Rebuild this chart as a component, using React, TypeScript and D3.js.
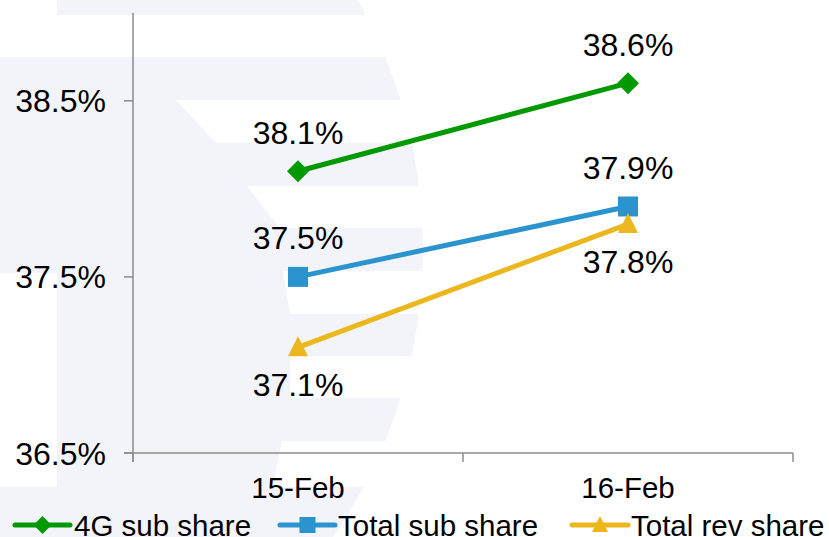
import React from 'react';
import * as d3 from 'd3';

const categories = ['15-Feb', '16-Feb'];
const seriesNames = ['4G sub share', 'Total sub share', 'Total rev share'];
const sub4G = [38.1, 38.6];
const totalSub = [37.5, 37.9];
const totalRev = [37.1, 37.8];
const yTicks = [36.5, 37.5, 38.5];
const yDomain = [36.5, 39.0];
const labelSide = [
  ['above', 'above'],
  ['above', 'above'],
  ['below', 'below'],
];

const W = 829;
const H = 537;
const FONT = '"Liberation Sans", Arial, sans-serif';
const AXIS = '#8c8c8c';
const WM = '#f2f4f9';
const colors = ['#009a00', '#2b93cd', '#ecb71c'];
const markers = ['diamond', 'square', 'triangle'];

function Marker({ type, x, y, size, color }: { type: string; x: number; y: number; size: number; color: string }) {
  const h = size / 2;
  if (type === 'diamond') {
    const d = h + 1;
    return <path d={`M${x},${y - d}L${x + d},${y}L${x},${y + d}L${x - d},${y}Z`} fill={color} />;
  }
  if (type === 'square') {
    return <rect x={x - h} y={y - h} width={size} height={size} fill={color} />;
  }
  return <path d={`M${x},${y - h - 1}L${x + h},${y + h - 1}L${x - h},${y + h - 1}Z`} fill={color} />;
}

export default function App() {
  const x = d3.scaleBand<string>().domain(categories).range([133, 793]).padding(0);
  const y = d3.scaleLinear().domain(yDomain).range([453, 12.75]);
  const cx = (c: string) => (x(c) as number) + x.bandwidth() / 2;
  const series = [sub4G, totalSub, totalRev];
  const line = d3
    .line<number>()
    .x((_, i) => cx(categories[i]))
    .y((v) => y(v));

  const bands: [number, number, number][] = [
    [57, -30, 15],
    [0, 57, 100],
    [0, 143, 186],
    [0, 228, 271],
    [57, 314, 356],
    [57, 398, 441],
    [0, 487, 540],
  ];
  const spine: [number, number][] = [
    [0, 100], [176, 100], [216, 143], [247, 186], [280, 228], [283, 271], [290, 314],
    [290, 356], [290, 398], [282, 441], [273, 487], [57, 487], [57, 273], [0, 273],
  ];

  const legendItems = [
    { x0: 15, x1: 70, tx: 74 },
    { x0: 280, x1: 335, tx: 338 },
    { x0: 572, x1: 628, tx: 631 },
  ];

  return (
    <svg width={W} height={H} style={{ position: 'absolute', left: 0, top: 0, background: '#fff' }} fontFamily={FONT}>
      <defs>
        <clipPath id="wmclip">
          <circle cx={-83} cy={249} r={506} />
        </clipPath>
      </defs>
      <g clipPath="url(#wmclip)" fill={WM}>
        {bands.map(([x0, y0, y1], i) => (
          <rect key={i} x={x0} y={y0} width={600} height={y1 - y0} />
        ))}
        <path d={d3.line()(spine) + 'Z'} />
      </g>

      {/* axes */}
      <g stroke={AXIS} strokeWidth={1.5} fill="none">
        <line x1={133} x2={133} y1={y(yDomain[1])} y2={462} />
        <line x1={124} x2={793} y1={453} y2={453} />
        {yTicks.map((t) => (
          <line key={t} x1={124} x2={133} y1={y(t)} y2={y(t)} />
        ))}
        {[0, 1, 2].map((i) => {
          const xx = i < 2 ? (x(categories[i]) as number) : 793;
          return <line key={i} x1={xx} x2={xx} y1={453} y2={462} />;
        })}
      </g>
      {yTicks.map((t) => (
        <text key={t} x={106} y={y(t) + 11.5} textAnchor="end" fontSize={32} fill="#000">
          {t.toFixed(1)}%
        </text>
      ))}
      {categories.map((c) => (
        <text key={c} x={cx(c)} y={497.5} textAnchor="middle" fontSize={29.5} fill="#000">
          {c}
        </text>
      ))}

      {series.map((vals, si) => (
        <g key={si}>
          <path d={line(vals) || ''} fill="none" stroke={colors[si]} strokeWidth={5} />
          {vals.map((v, i) => (
            <Marker key={i} type={markers[si]} x={cx(categories[i])} y={y(v)} size={20} color={colors[si]} />
          ))}
        </g>
      ))}
      {series.map((vals, si) =>
        vals.map((v, i) => (
          <text
            key={`${si}-${i}`}
            x={cx(categories[i])}
            y={labelSide[si][i] === 'above' ? y(v) - 27.5 : y(v) + 49}
            textAnchor="middle"
            fontSize={32}
            fill="#000"
          >
            {v.toFixed(1)}%
          </text>
        ))
      )}

      {/* legend */}
      {legendItems.map((it, i) => (
        <g key={i}>
          <line x1={it.x0} x2={it.x1} y1={525} y2={525} stroke={colors[i]} strokeWidth={5} strokeLinecap="round" />
          <Marker type={markers[i]} x={(it.x0 + it.x1) / 2} y={525} size={16} color={colors[i]} />
          <text x={it.tx} y={536} fontSize={29.5} fill="#000">
            {seriesNames[i]}
          </text>
        </g>
      ))}
    </svg>
  );
}
